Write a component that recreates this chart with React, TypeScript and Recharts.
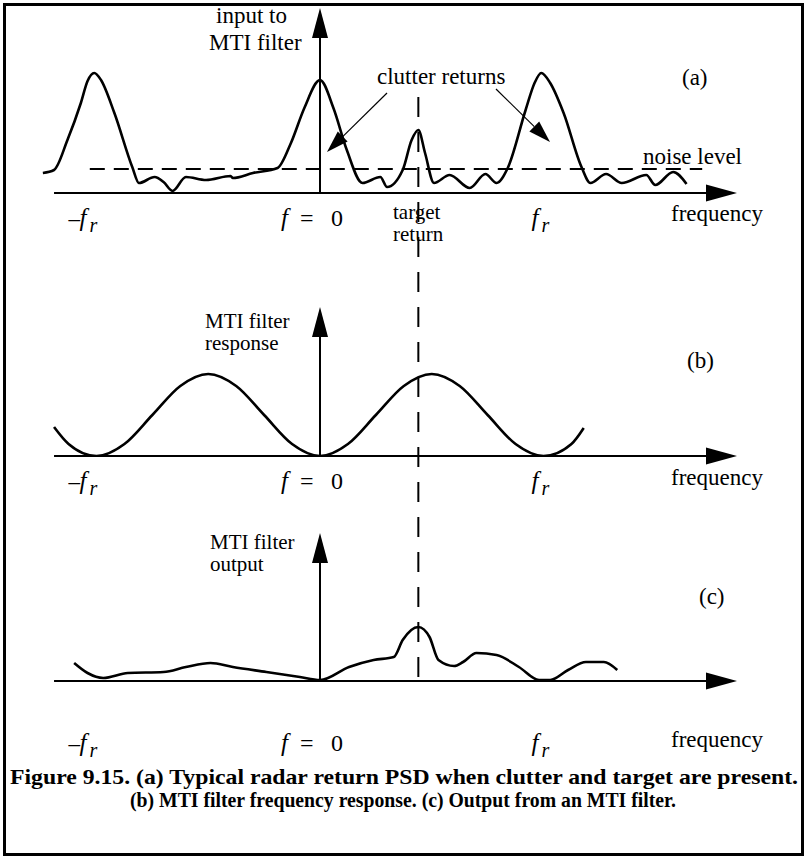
import React from 'react';
import { LineChart, Line, XAxis, YAxis, ReferenceLine } from 'recharts';

const W = 806;
const H = 858;

// frequency in units of the PRF (fr), amplitude in arbitrary units
const inputFreq = [-1.24, -1.19, -1.13, -1.07, -1.04, -1.01, -0.98, -0.92, -0.84, -0.81, -0.74, -0.7, -0.66, -0.6, -0.51, -0.4, -0.39, -0.3, -0.19, -0.13, -0.07, 0, 0.06, 0.12, 0.19, 0.27, 0.3, 0.37, 0.41, 0.44, 0.47, 0.51, 0.58, 0.67, 0.74, 0.79, 0.84, 0.92, 0.96, 0.99, 1.03, 1.09, 1.17, 1.21, 1.28, 1.35, 1.46, 1.5, 1.58, 1.64];
const inputLevel = [2.0, 2.3, 5.3, 9.0, 11.2, 12.0, 11.3, 8.0, 2.6, 1.0, 1.6, 1.1, 0.2, 1.6, 1.3, 1.7, 1.5, 2.0, 2.5, 5.0, 8.5, 11.3, 8.5, 4.3, 1.0, 1.6, 0.6, 2.3, 5.3, 6.3, 4.0, 1.0, 1.8, 0.5, 1.9, 1.0, 2.5, 8.3, 11.0, 12.0, 11.0, 8.0, 2.6, 1.0, 1.9, 1.0, 1.8, 0.8, 2.1, 0.9];

const responseFreq = [-1.19, -1.125, -1.0, -0.875, -0.75, -0.625, -0.5, -0.375, -0.25, -0.125, 0, 0.125, 0.25, 0.375, 0.5, 0.625, 0.75, 0.875, 1.0, 1.125, 1.18];
const responseLevel = [2.9, 1.2, 0, 1.2, 4.1, 7.0, 8.2, 7.0, 4.1, 1.2, 0, 1.2, 4.1, 7.0, 8.2, 7.0, 4.1, 1.2, 0, 1.2, 2.8];

const outputFreq = [-1.1, -1.04, -0.97, -0.86, -0.7, -0.6, -0.49, -0.39, -0.24, -0.09, 0, 0.13, 0.24, 0.33, 0.37, 0.44, 0.49, 0.53, 0.6, 0.64, 0.7, 0.79, 0.89, 0.98, 1.03, 1.11, 1.19, 1.27, 1.33];
const outputLevel = [1.8, 0.8, 0.3, 0.8, 0.9, 1.4, 1.8, 1.4, 0.9, 0.4, 0.1, 1.4, 2.1, 2.4, 4.1, 5.4, 4.4, 2.1, 1.5, 1.9, 2.8, 2.6, 1.4, 0.1, 0.1, 1.1, 1.9, 1.9, 1.1];

const NOISE_LEVEL = 2.4;
const NOISE_SPAN = [-1.03, 1.71];
const TARGET_FREQ = 0.44;

const X_DOMAIN: [number, number] = [-1.25, 1.87];
const ORIGIN_X = 320;
const PX_PER_FR = 223.5;
const PLOT_LEFT = ORIGIN_X + X_DOMAIN[0] * PX_PER_FR;
const PLOT_RIGHT = ORIGIN_X + X_DOMAIN[1] * PX_PER_FR;
const PX_PER_UNIT = 10;
const Y_MAX = 13;

const AXIS_START = -1.19;
const AXIS_END = 1.73;
const ARROW_TIP_X = 737;

const FONT = 'Liberation Serif, Times New Roman, serif';
const fx = (f: number) => ORIGIN_X + f * PX_PER_FR;

type PanelProps = {
  freq: number[];
  level: number[];
  axisY: number;
  tipY: number;
  noise?: boolean;
};

function Panel({ freq, level, axisY, tipY, noise }: PanelProps) {
  const data = freq.map((f, i) => ({ f, v: level[i] }));
  const top = axisY - Y_MAX * PX_PER_UNIT;
  const axisTop = (axisY - tipY - 20) / PX_PER_UNIT;
  return (
    <div style={{ position: 'absolute', left: 0, top: 0 }}>
      <LineChart
        width={W}
        height={H}
        data={data}
        margin={{ top, bottom: H - axisY, left: PLOT_LEFT, right: W - PLOT_RIGHT }}
      >
        <XAxis type="number" dataKey="f" domain={X_DOMAIN} hide allowDataOverflow />
        <YAxis type="number" domain={[0, Y_MAX]} hide allowDataOverflow />
        <ReferenceLine
          segment={[{ x: AXIS_START, y: 0 }, { x: AXIS_END, y: 0 }]}
          stroke="#000"
          strokeWidth={2}
          ifOverflow="visible"
        />
        <ReferenceLine
          segment={[{ x: 0, y: 0 }, { x: 0, y: axisTop }]}
          stroke="#000"
          strokeWidth={2}
          ifOverflow="visible"
        />
        {noise && (
          <ReferenceLine
            segment={[{ x: NOISE_SPAN[0], y: NOISE_LEVEL }, { x: NOISE_SPAN[1], y: NOISE_LEVEL }]}
            stroke="#000"
            strokeWidth={2}
            strokeDasharray="15 9"
            ifOverflow="visible"
          />
        )}
        <Line
          type="monotone"
          dataKey="v"
          stroke="#000"
          strokeWidth={2.6}
          dot={false}
          isAnimationActive={false}
        />
      </LineChart>
    </div>
  );
}

function ArrowHead({ x1, y1, x2, y2, len, half }: { x1: number; y1: number; x2: number; y2: number; len: number; half: number }) {
  const dx = x2 - x1;
  const dy = y2 - y1;
  const d = Math.hypot(dx, dy);
  const ux = dx / d;
  const uy = dy / d;
  const bx = x2 - ux * len;
  const by = y2 - uy * len;
  const pts = `${x2},${y2} ${bx - uy * half},${by + ux * half} ${bx + uy * half},${by - ux * half}`;
  return (
    <g>
      <line x1={x1} y1={y1} x2={bx} y2={by} stroke="#000" strokeWidth={1.2} />
      <polygon points={pts} fill="#000" />
    </g>
  );
}

function FrLabel({ x, y, neg }: { x: number; y: number; neg?: boolean }) {
  const fxPos = neg ? x + 10 : x;
  return (
    <g fontFamily={FONT}>
      {neg && <text x={x - 1} y={y} fontSize={23}>{'\u2013'}</text>}
      <text x={fxPos} y={y} fontSize={25} fontStyle="italic">f</text>
      <text x={fxPos + 10} y={y + 6} fontSize={20} fontStyle="italic">r</text>
    </g>
  );
}

function ZeroLabel({ x, y }: { x: number; y: number }) {
  return (
    <g fontFamily={FONT}>
      <text x={x} y={y} fontSize={25} fontStyle="italic">f</text>
      <text x={x + 19} y={y} fontSize={24}>=</text>
      <text x={x + 50} y={y} fontSize={24}>0</text>
    </g>
  );
}

const panels = [
  { axisY: 193, tipY: 8, tickY: 226, freqY: 221 },
  { axisY: 456, tipY: 307, tickY: 489, freqY: 485 },
  { axisY: 681, tipY: 533, tickY: 751, freqY: 747 },
];

export default function App() {
  const tx = fx(TARGET_FREQ);
  return (
    <div style={{ position: 'relative', width: W, height: H, background: '#fff' }}>
      <style>{'body{margin:0}'}</style>
      <Panel freq={inputFreq} level={inputLevel} axisY={panels[0].axisY} tipY={panels[0].tipY} noise />
      <Panel freq={responseFreq} level={responseLevel} axisY={panels[1].axisY} tipY={panels[1].tipY} />
      <Panel freq={outputFreq} level={outputLevel} axisY={panels[2].axisY} tipY={panels[2].tipY} />
      <svg width={W} height={H} style={{ position: 'absolute', left: 0, top: 0, pointerEvents: 'none' }}>
        <rect x={4.5} y={4.5} width={798} height={850} fill="none" stroke="#000" strokeWidth={3} />
        <line x1={tx} y1={97} x2={tx} y2={689} stroke="#000" strokeWidth={2} strokeDasharray="20 15" />
        {panels.map((p, i) => (
          <g key={i}>
            <polygon points={`${ARROW_TIP_X - 31},${p.axisY - 8.5} ${ARROW_TIP_X},${p.axisY} ${ARROW_TIP_X - 31},${p.axisY + 8.5}`} fill="#000" />
            <polygon points={`${ORIGIN_X - 8},${p.tipY + 30} ${ORIGIN_X},${p.tipY} ${ORIGIN_X + 8},${p.tipY + 30}`} fill="#000" />
            <FrLabel x={fx(-1) - 27} y={p.tickY} neg />
            <ZeroLabel x={fx(0) - 39} y={p.tickY} />
            <FrLabel x={fx(1) - 12} y={p.tickY} />
            <text x={671} y={p.freqY} fontSize={23} fontFamily={FONT}>frequency</text>
          </g>
        ))}
        <g fontSize={23} fontFamily={FONT}>
          <text x={216} y={23}>input to</text>
          <text x={209} y={50}>MTI filter</text>
          <text x={377} y={84}>clutter returns</text>
          <text x={682} y={85}>(a)</text>
          <text x={643} y={164}>noise level</text>
          <text x={687} y={368}>(b)</text>
          <text x={699} y={604}>(c)</text>
        </g>
        <g fontSize={21} fontFamily={FONT}>
          <text x={393} y={219}>target</text>
          <text x={393} y={241}>return</text>
          <text x={205} y={328}>MTI filter</text>
          <text x={205} y={350}>response</text>
          <text x={210} y={549}>MTI filter</text>
          <text x={210} y={571}>output</text>
        </g>
        <ArrowHead x1={387} y1={93} x2={327} y2={152} len={22} half={7} />
        <ArrowHead x1={496} y1={89} x2={550} y2={142} len={22} half={7} />
        <g fontSize={21} fontFamily={FONT} fontWeight="bold">
          <text x={10} y={784} textLength={788} lengthAdjust="spacingAndGlyphs">
            Figure 9.15. (a) Typical radar return PSD when clutter and target are present.
          </text>
          <text x={130} y={807} textLength={546} lengthAdjust="spacingAndGlyphs">
            (b) MTI filter frequency response. (c) Output from an MTI filter.
          </text>
        </g>
      </svg>
    </div>
  );
}
